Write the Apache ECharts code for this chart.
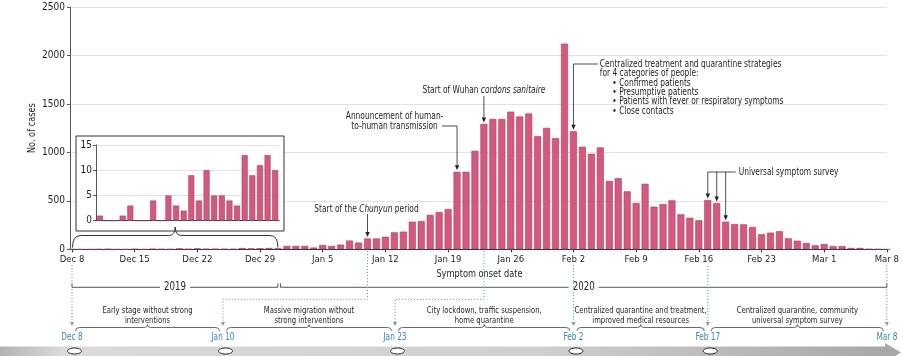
<!DOCTYPE html>
<html><head><meta charset="utf-8">
<script src="https://cdn.jsdelivr.net/npm/echarts@6/dist/echarts.min.js"></script>
<style>html,body{margin:0;padding:0;background:#fff}#c{width:902px;height:356px}</style>
</head><body><div id="c"></div>
<script>
// ---------- DATA ----------
const decValues = [1,0,0,1,3,0,0,4,0,5,3,2,9,4,10,5,5,4,3,13,9,11,13,10];          // Dec 8 - Dec 31
const janValues = [35,35,35,18,45,35,48,90,70,112,112,130,175,182,285,292,355,385,415,800,800,1016,1294,1345,1345,1421,1370,1401,1167,1253,1146];
const febValues = [2122,1218,1058,986,1051,705,733,598,477,676,440,467,505,361,326,299,508,477,285,261,258,230,155,172,186,113,89,65,41];
const marValues = [55,34,34,14,14,4,2,0];
const yTicks = [0,500,1000,1500,2000,2500];
const insetTicks = [0,5,10,15];
const phaseDates = ['Dec 8','Jan 10','Jan 23','Feb 2','Feb 17','Mar 8'];
const phaseTexts = [
  ['Early stage without strong','interventions'],
  ['Massive migration without','strong interventions'],
  ['City lockdown, traffic suspension,','home quarantine'],
  ['Centralized quarantine and treatment,','improved medical resources'],
  ['Centralized quarantine, community','universal symptom survey']
];
const years = ['2019','2020'];

// categories Dec 8 2019 .. Mar 8 2020
const MON = ['Jan','Feb','Mar','Apr','May','Jun','Jul','Aug','Sep','Oct','Nov','Dec'];
const cats = [];
{ const d = new Date(2019,11,8); for (let i=0;i<92;i++){ cats.push(MON[d.getMonth()]+' '+d.getDate()); d.setDate(d.getDate()+1);} }
const allValues = decValues.concat(janValues, febValues, marValues);
const idx = name => cats.indexOf(name);

const FF = "'Liberation Sans Narrow','Arial Narrow','DejaVu Sans Condensed',sans-serif";
const BAR = {color:'#d4597d', borderColor:'#a33f5e', borderWidth:0.6};
const TXT = '#1e1e1e';
const TEAL = '#3b87a6';
const SX = 0.83;

const chart = echarts.init(document.getElementById('c'), null, {renderer:'canvas'});
chart.setOption({
  animation:false,
  backgroundColor:'#fff',
  textStyle:{fontFamily:FF},
  grid:[{left:72, top:7, width:816, height:242.3},
        {left:96, top:145, width:183, height:75.7}],
  xAxis:[
    {type:'category', gridIndex:0, data:cats, boundaryGap:false,
     axisLine:{lineStyle:{color:'#333', width:1}},
     axisTick:{interval:6, length:3, lineStyle:{color:'#333'}},
     axisLabel:{interval:6, color:TXT, fontSize:9.5, margin:5, fontFamily:FF}},
    {type:'category', gridIndex:1, data:cats.slice(0,24), boundaryGap:true, z:4,
     axisLine:{lineStyle:{color:'#333', width:1}}, axisTick:{show:false}, axisLabel:{show:false}}
  ],
  yAxis:[
    {type:'value', gridIndex:0, min:yTicks[0], max:yTicks[yTicks.length-1], interval:500, offset:2,
     axisLine:{show:true, lineStyle:{color:'#555'}}, axisTick:{show:true, length:3, lineStyle:{color:'#555'}},
     axisLabel:{fontSize:10, color:TXT, margin:5, fontFamily:FF, formatter:v=>String(v)},
     splitLine:{lineStyle:{color:'#e2e2e2'}}},
    {type:'value', gridIndex:1, min:insetTicks[0], max:insetTicks[insetTicks.length-1], interval:5, z:4,
     axisLine:{show:true, lineStyle:{color:'#555'}}, axisTick:{show:true, length:3, lineStyle:{color:'#555'}},
     axisLabel:{fontSize:10, color:TXT, margin:4, fontFamily:FF, formatter:v=>String(v)},
     splitLine:{lineStyle:{color:'#e2e2e2'}}}
  ],
  series:[
    {type:'bar', xAxisIndex:0, yAxisIndex:0, data:allValues, barWidth:7, itemStyle:BAR, z:2},
    {type:'bar', xAxisIndex:1, yAxisIndex:1, data:decValues, barWidth:6, itemStyle:BAR, z:5}
  ]
});

// ---------- annotations ----------
const G = [];
const P = (i, v) => chart.convertToPixel({gridIndex:0}, [i, v]);
const X = i => P(i, 0)[0];
const Y = v => P(0, v)[1];
const Z = 10;
function pl(points, color, lw, dash){ G.push({type:'polyline', z:Z, silent:true, shape:{points}, style:{stroke:color, lineWidth:lw||0.8, lineDash:dash||null, fill:null}}); }
function head(x, y, color, w, h){ w=w||2.2; h=h||5; G.push({type:'polygon', z:Z, silent:true, shape:{points:[[x-w,y-h],[x+w,y-h],[x,y]]}, style:{fill:color}}); }
function txt(x, y, text, o, sx, rot){
  o = o || {};
  const fs = o.fontSize || 10;
  G.push({type:'text', z:Z, silent:true, x, y, scaleX:(sx==null?SX:sx), rotation:rot||0,
    style:Object.assign({text, fill:TXT, fontSize:fs, fontFamily:FF, align:'center', verticalAlign:'middle',
      rich:{i:{fontStyle:'italic', fontSize:fs, fontFamily:FF, fill:TXT}}}, o)});
}
function qc(x1,y1,cx,cy,x2,y2,color,lw){ G.push({type:'bezierCurve', z:Z, silent:true, shape:{x1,y1,x2,y2,cpx1:cx,cpy1:cy}, style:{stroke:color, lineWidth:lw, fill:null}}); }
function brace(xa, xb, y, dEnd, rEnd, dMid, rMid, color, lw){
  const xm = (xa+xb)/2;
  qc(xa, y+dEnd, xa, y, xa+rEnd, y, color, lw);
  pl([[xa+rEnd,y],[xm-rMid,y]], color, lw);
  qc(xm-rMid, y, xm, y, xm, y-dMid, color, lw);
  qc(xm, y-dMid, xm, y, xm+rMid, y, color, lw);
  pl([[xm+rMid,y],[xb-rEnd,y]], color, lw);
  qc(xb-rEnd, y, xb, y, xb, y+dEnd, color, lw);
}

// axis names
txt((X(0)+X(91))/2, 274.3, 'Symptom onset date', {fontSize:11});
txt(32, Y(1250), 'No. of cases', {fontSize:11}, SX, Math.PI/2);

// inset frame (white, above main grid lines)
G.push({type:'rect', z:3, silent:true, shape:{x:76, y:136, width:208, height:95}, style:{fill:'#fff', stroke:'#333', lineWidth:1}});
// brace under inset
brace(X(0)+0.5, X(23), 235.5, 12, 8, 8.5, 6.5, '#333', 1);

// Chunyun
{ const i = idx('Jan 10'), x = X(i), t = Y(allValues[i]);
  txt(x-1, Y(412), 'Start of the {i|Chunyun} period');
  pl([[x,214],[x,t-5]], '#222', 0.8); head(x, t-1.5, '#222'); }
// Human-to-human
{ const i = idx('Jan 20'), x = X(i), t = Y(allValues[i]);
  txt(x-62.5, 121.4, 'Announcement of human-\nto-human transmission', {lineHeight:9.4});
  pl([[x-15,126],[x,126],[x,t-5]], '#222', 0.8); head(x, t-1.5, '#222'); }
// Cordons
{ const i = idx('Jan 23'), x = X(i), t = Y(allValues[i]);
  txt(x, 90, 'Start of Wuhan {i|cordons sanitaire}');
  pl([[x,96],[x,t-5]], '#222', 0.8); head(x, t-1.5, '#222'); }
// Centralized treatment
{ const i = idx('Feb 2'), x = X(i), t = Y(allValues[i]);
  const lx = x+26.4;
  txt(lx, 64, 'Centralized treatment and quarantine strategies', {align:'left'});
  txt(lx, 73.5, 'for 4 categories of people:', {align:'left'});
  const bl = ['Confirmed patients','Presumptive patients','Patients with fever or respiratory symptoms','Close contacts'];
  bl.forEach((s,k)=> txt(lx+12.5, 83+k*9.45, '\u2022 '+s, {align:'left'}));
  pl([[lx-2,64],[x,64],[x,t-5]], '#222', 0.8); head(x, t-1.5, '#222'); }
// Universal symptom survey
{ const ids = ['Feb 17','Feb 18','Feb 19'].map(idx);
  const xs = ids.map(X), ts = ids.map(i=>Y(allValues[i]));
  txt(xs[2]+13, 172, 'Universal symptom survey', {align:'left'});
  pl([[xs[2]+10,172],[xs[0],172]], '#222', 0.8);
  xs.forEach((x,k)=>{ pl([[x,172],[x,ts[k]-5]], '#222', 0.8); head(x, ts[k]-1.5, '#222'); }); }

// year rules
{ const yR = 287.3, a = X(0), b = X(23), c = X(23)+2.5, d = X(91);
  pl([[a,yR-4],[a,yR],[b,yR],[b,yR-4]], '#444', 0.9);
  pl([[c,yR-4],[c,yR],[d,yR],[d,yR-4]], '#444', 0.9);
  txt((a+b)/2, yR, years[0], {fontSize:12, backgroundColor:'#fff', padding:[0,5]}, 0.8);
  txt((c+d)/2, yR, years[1], {fontSize:12, backgroundColor:'#fff', padding:[0,5]}, 0.8); }

// timeline (schematic layout positions)
const tlX = [X(idx('Dec 8')), 223, 395, X(idx('Feb 2')), X(idx('Feb 17')), X(idx('Mar 8'))];
// bottom band arrow
G.push({type:'rect', z:1, silent:true, shape:{x:0, y:346.5, width:886, height:12},
  style:{fill:{type:'linear', x:0, y:0, x2:1, y2:0, colorStops:[{offset:0,color:'#b3b3b3'},{offset:0.07,color:'#dadada'},{offset:0.6,color:'#d0d0d0'},{offset:1,color:'#a8a8a8'}]}}});
G.push({type:'polygon', z:1, silent:true, shape:{points:[[885,343],[901,352.5],[885,362]]}, style:{fill:'#a8a8a8'}});
// dotted connectors
const DOT = '#6f9fb4';
const dash = [1.2, 1.8];
pl([[tlX[0],265],[tlX[0],322]], DOT, 1, dash);
{ const s = X(idx('Jan 10')); pl([[s,251],[s,299.3],[tlX[1],299.3],[tlX[1],322]], DOT, 1, dash); }
{ const s = X(idx('Jan 23')); pl([[s,251],[s,299.3],[tlX[2],299.3],[tlX[2],322]], DOT, 1, dash); }
pl([[tlX[3],265],[tlX[3],322]], DOT, 1, dash);
pl([[tlX[4],266],[tlX[4],322]], DOT, 1, dash);
pl([[tlX[5],265],[tlX[5],322]], DOT, 1, dash);
tlX.forEach((x,k)=>{
  head(x, 326, DOT, 2, 4);
  txt(x, 337.7, phaseDates[k], {fill:TEAL, fontSize:10}, 0.82);
  if (k < tlX.length-1) G.push({type:'ellipse', z:Z, silent:true, shape:{cx:x+2.5, cy:351, rx:7, ry:3}, style:{fill:'#fff', stroke:'#222', lineWidth:1}});
});
phaseTexts.forEach((lines,k)=>{
  const xa = tlX[k], xb = tlX[k+1], xm = (xa+xb)/2;
  txt(xm, 310.7, lines[0], {fontSize:9.5}, 0.8); txt(xm, 320.5, lines[1], {fontSize:9.5}, 0.8);
  brace(xa+3.5, xb-3.5, 327.5, 3.5, 4, 3, 3, '#444', 0.8);
});

chart.setOption({graphic:{elements:G}});
</script></body></html>
